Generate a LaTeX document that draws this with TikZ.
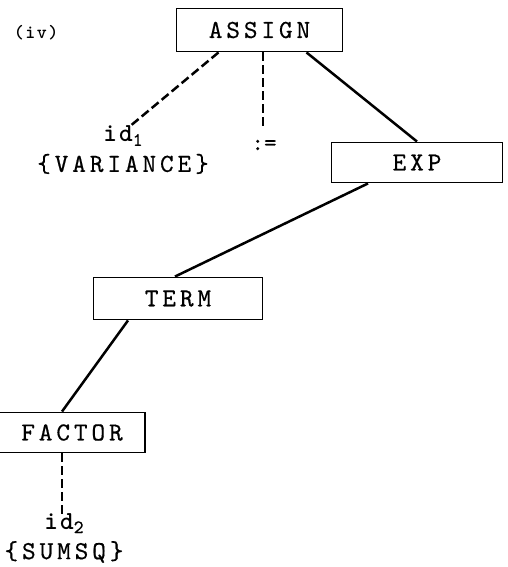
\documentclass[tikz,border=0pt]{standalone}
\usepackage{fontspec}
\usetikzlibrary{calc}
% spaced typewriter lettering, as on a line printer
\newfontfamily\spacedtt[LetterSpace=15,FakeBold=0.5]{lmmono10-regular.otf}
\newfontfamily\plaintt[FakeBold=0.5]{lmmono10-regular.otf}
\newfontfamily\boldtt[LetterSpace=8]{lmmonolt10-bold.otf}
\begin{document}
\begin{tikzpicture}[x=1pt,y=1pt,
  nt/.style={draw,line width=1.9pt,inner sep=0pt,
    font=\fontsize{26}{28}\selectfont\spacedtt},
  edge/.style={line width=2.5pt},
  dashedge/.style={line width=2.5pt,dash pattern=on 9pt off 4pt},
  leaf/.style={font=\fontsize{26}{24}\selectfont\spacedtt,align=center,inner sep=0pt}]
\useasboundingbox (0,0) rectangle (507,-567);
\node[font=\fontsize{19}{19}\selectfont\boldtt] (tag) at (36,-33) {(iv)};
\node[nt,minimum width=166pt,minimum height=43pt] (assign) at (259.5,-30) {ASSIGN};
\node[nt,minimum width=171pt,minimum height=40pt] (exp) at (417,-162.5) {EXP};
\node[nt,minimum width=169pt,minimum height=42pt] (term) at (178,-298.5) {TERM};
\node[nt,minimum width=146pt,minimum height=40pt] (factor) at (72,-432.5) {FACTOR};
\node[leaf] (id1) at (123,-150) {{\boldtt id}\raisebox{-4pt}{\plaintt\fontsize{19}{19}\selectfont 1}\\[6pt]\{VARIANCE\}};
\node[font=\fontsize{24}{24}\selectfont\plaintt] (assop) at (264,-145) {:=};
\node[leaf] (id2) at (64,-538) {{\boldtt id}\raisebox{-4pt}{\plaintt\fontsize{19}{19}\selectfont 2}\\[6pt]\{SUMSQ\}};
\coordinate (id1top) at (129,-127);
\coordinate (assoptop) at (263,-130);
\coordinate (id2top) at (62,-517);
\draw[dashedge] ($(assign.south)+(-41,0)$) -- (id1top);
\draw[dashedge] ($(assign.south)+(3.5,0)$) -- (assoptop);
\draw[edge] ($(assign.south)+(47,0)$) -- (exp.north);
\draw[edge] ($(exp.south)+(-49,0)$) -- ($(term.north)+(-3,0)$);
\draw[edge] ($(term.south)+(-50,0)$) -- ($(factor.north)+(-10,0)$);
\draw[dashedge] ($(factor.south)+(-10,0)$) -- (id2top);
\end{tikzpicture}
\end{document}
